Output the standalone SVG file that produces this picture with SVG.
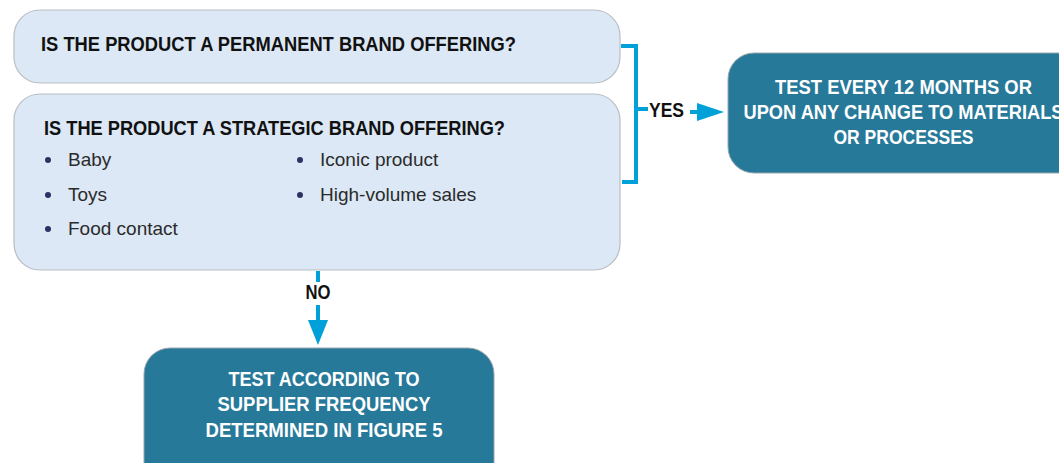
<svg xmlns="http://www.w3.org/2000/svg" width="1059" height="463" viewBox="0 0 1059 463">
<style>
.q{fill:#dce8f5;stroke:#b9bec4;stroke-width:1.2}
.a{fill:#27799a;stroke:#9aa6ad;stroke-width:1}
.h{font-family:"Liberation Sans",Arial,sans-serif;font-weight:bold;font-size:19.5px;fill:#111}
.w{font-family:"Liberation Sans",Arial,sans-serif;font-weight:bold;font-size:20px;fill:#fff}
.b{font-family:"Liberation Sans",Arial,sans-serif;font-size:19px;fill:#2b2b2b}
.d{fill:#2d3263}
.c{stroke:#00a0d8;stroke-width:4;fill:none}
.ah{fill:#00a0d8}
.l{font-family:"Liberation Sans",Arial,sans-serif;font-weight:bold;font-size:19.5px;fill:#111}
</style>
<g id="q1">
<rect class="q" x="14" y="10" width="606" height="73" rx="26"/>
<text class="h" x="41" y="51" textLength="475" lengthAdjust="spacingAndGlyphs">IS THE PRODUCT A PERMANENT BRAND OFFERING?</text>
</g>
<g id="q2">
<rect class="q" x="14" y="94" width="606" height="176" rx="26"/>
<text class="h" x="44" y="135" textLength="461" lengthAdjust="spacingAndGlyphs">IS THE PRODUCT A STRATEGIC BRAND OFFERING?</text>
<circle class="d" cx="48" cy="160" r="3"/>
<text class="b" x="68" y="166">Baby</text>
<circle class="d" cx="48" cy="195" r="3"/>
<text class="b" x="68" y="201">Toys</text>
<circle class="d" cx="48" cy="229" r="3"/>
<text class="b" x="68" y="235">Food contact</text>
<circle class="d" cx="300" cy="160" r="3"/>
<text class="b" x="320" y="166">Iconic product</text>
<circle class="d" cx="300" cy="195" r="3"/>
<text class="b" x="320" y="201">High-volume sales</text>
</g>
<g id="yes-result">
<rect class="a" x="728" y="53" width="360" height="120" rx="26"/>
<text class="w" x="903.5" y="94" text-anchor="middle" textLength="257" lengthAdjust="spacingAndGlyphs">TEST EVERY 12 MONTHS OR</text>
<text class="w" x="903.5" y="119" text-anchor="middle" textLength="320" lengthAdjust="spacingAndGlyphs">UPON ANY CHANGE TO MATERIALS</text>
<text class="w" x="903.5" y="144" text-anchor="middle" textLength="140" lengthAdjust="spacingAndGlyphs">OR PROCESSES</text>
</g>
<g id="no-result">
<rect class="a" x="144" y="348" width="350" height="140" rx="26"/>
<text class="w" x="324" y="386" text-anchor="middle" textLength="191" lengthAdjust="spacingAndGlyphs">TEST ACCORDING TO</text>
<text class="w" x="324" y="411" text-anchor="middle" textLength="213" lengthAdjust="spacingAndGlyphs">SUPPLIER  FREQUENCY</text>
<text class="w" x="324" y="437" text-anchor="middle" textLength="237" lengthAdjust="spacingAndGlyphs">DETERMINED IN FIGURE 5</text>
</g>
<g id="connectors">
<path class="c" d="M621 46 H636 V182 H622"/>
<path class="c" d="M636 109 H648"/>
<text class="l" x="649" y="117" textLength="35" lengthAdjust="spacingAndGlyphs">YES</text>
<path class="c" d="M690 112 H700"/>
<polygon class="ah" points="697,103 724,112 697,121"/>
<path class="c" d="M318 271 V282"/>
<text class="l" x="318" y="299" text-anchor="middle" textLength="25" lengthAdjust="spacingAndGlyphs">NO</text>
<path class="c" d="M318 305 V323"/>
<polygon class="ah" points="308,320 318,345 328,320"/>
</g>
</svg>
